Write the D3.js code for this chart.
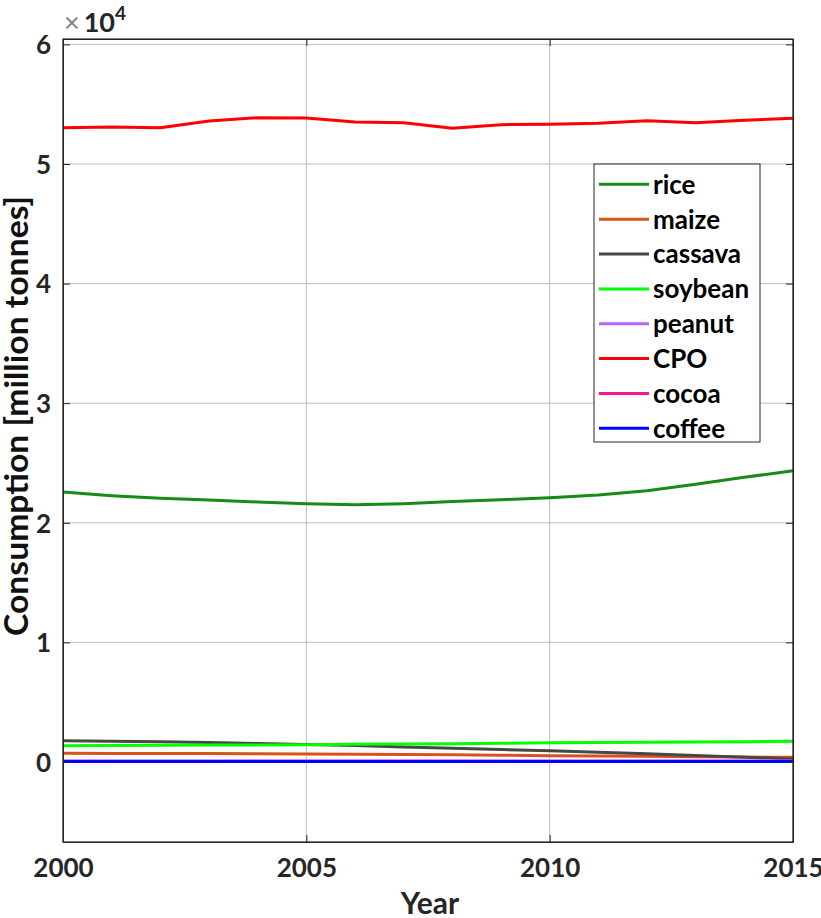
<!DOCTYPE html>
<html>
<head>
<meta charset="utf-8">
<script src="https://cdn.jsdelivr.net/npm/d3@7"></script>
<style>
  html, body { margin: 0; padding: 0; background: #fff; }
  svg { display: block; font-family: Lato, "DejaVu Sans", sans-serif; }
</style>
</head>
<body>
<svg id="chart" width="821" height="918"></svg>
<script>
const years = [2000,2001,2002,2003,2004,2005,2006,2007,2008,2009,2010,2011,2012,2013,2014,2015];
const seriesNames = ["rice","maize","cassava","soybean","peanut","CPO","cocoa","coffee"];
const rice    = [22580,22270,22050,21900,21740,21600,21510,21600,21770,21930,22100,22320,22680,23220,23800,24360];
const maize   = [730,720,710,700,690,670,650,620,600,560,530,500,470,440,410,390];
const cassava = [1780,1740,1690,1620,1550,1460,1370,1260,1150,1040,940,820,690,550,400,260];
const soybean = [1360,1380,1400,1410,1430,1450,1480,1500,1530,1560,1600,1620,1650,1680,1700,1730];
const peanut  = [90,90,90,90,90,90,90,90,90,90,90,90,90,90,90,90];
const CPO     = [53030,53100,53030,53590,53870,53840,53510,53450,52980,53290,53320,53400,53620,53450,53650,53820];
const cocoa   = [70,70,70,70,70,70,70,70,70,70,70,70,70,70,70,70];
const coffee  = [50,50,50,50,50,50,50,50,50,50,50,50,50,50,50,50];
const xTicks = [2000,2005,2010,2015];
const yTicks = [0,10000,20000,30000,40000,50000,60000];
const yTickLabels = ["0","1","2","3","4","5","6"];
const colors = ["#178a17","#d95319","#474747","#00ff00","#b266ff","#ff0000","#ff1493","#0000ff"];

const seriesData = [rice, maize, cassava, soybean, peanut, CPO, cocoa, coffee];

const svg = d3.select("#chart");
const L = 63, R = 793, T = 39, B = 842;
const x = d3.scaleLinear().domain([2000, 2015]).range([L, R]);
const y = d3.scaleLinear().domain([-6690, 60450]).range([B, T]);
const ink = "#262626";

// grid
const grid = svg.append("g");
grid.selectAll("line.gx").data(xTicks).join("line")
  .attr("x1", d => x(d)).attr("x2", d => x(d)).attr("y1", T).attr("y2", B)
  .attr("stroke", "#bdbdbd").attr("stroke-width", 1);
grid.selectAll("line.gy").data(yTicks).join("line")
  .attr("x1", L).attr("x2", R).attr("y1", d => y(d)).attr("y2", d => y(d))
  .attr("stroke", "#bdbdbd").attr("stroke-width", 1);

// lines
const line = d3.line().x((d, i) => x(years[i])).y(d => y(d));
svg.append("g").selectAll("path").data(seriesData).join("path")
  .attr("d", d => line(d)).attr("fill", "none")
  .attr("stroke", (d, i) => colors[i]).attr("stroke-width", 3)
  .attr("stroke-linejoin", "round");

// axes with inward ticks
const axB = svg.append("g").attr("transform", `translate(0,${B})`)
  .call(d3.axisBottom(x).tickValues(xTicks).tickFormat(d3.format("d")).tickSizeInner(-7).tickSizeOuter(0).tickPadding(17));
const axT = svg.append("g").attr("transform", `translate(0,${T})`)
  .call(d3.axisTop(x).tickValues(xTicks).tickFormat("").tickSizeInner(-7).tickSizeOuter(0));
const axL = svg.append("g").attr("transform", `translate(${L},0)`)
  .call(d3.axisLeft(y).tickValues(yTicks).tickFormat((d, i) => yTickLabels[i]).tickSizeInner(-7).tickSizeOuter(0).tickPadding(12));
const axR = svg.append("g").attr("transform", `translate(${R},0)`)
  .call(d3.axisRight(y).tickValues(yTicks).tickFormat("").tickSizeInner(-7).tickSizeOuter(0));
[axB, axT, axL, axR].forEach(a => {
  a.select(".domain").attr("stroke", ink);
  a.selectAll(".tick line").attr("stroke", ink);
  a.selectAll("text").attr("fill", ink).style("font-family", "Lato").style("font-weight", "bold").style("font-size", "26px");
});
axL.selectAll("text").attr("dy", "0.36em");
axB.selectAll("text").attr("dy", "0.71em");

// box
svg.append("rect").attr("x", L).attr("y", T).attr("width", R - L).attr("height", B - T)
  .attr("fill", "none").attr("stroke", ink).attr("stroke-width", 1.2);

// exponent label
const ex = svg.append("text").attr("x", 64).attr("y", 32).attr("fill", ink)
  .style("font-family", "Lato").style("font-size", "27px");
ex.append("tspan").text("×").style("font-weight", "normal").attr("fill", "#808080");
ex.append("tspan").text("10").style("font-weight", "bold").attr("dx", 4);
ex.append("tspan").text("4").style("font-weight", "bold").style("font-size", "19px").attr("dy", -12);

// axis titles
svg.append("text").attr("x", 430).attr("y", 914).attr("text-anchor", "middle")
  .attr("fill", ink).style("font-family", "Lato").style("font-weight", "bold").style("font-size", "30px")
  .text("Year");
svg.append("text").attr("transform", "translate(28,416) rotate(-90)").attr("text-anchor", "middle")
  .attr("fill", "#111").style("font-family", "Lato").style("font-weight", "bold").style("font-size", "32px")
  .attr("textLength", 440).attr("lengthAdjust", "spacingAndGlyphs")
  .text("Consumption [million tonnes]");

// legend
const lg = svg.append("g");
lg.append("rect").attr("x", 594).attr("y", 164).attr("width", 166).attr("height", 278)
  .attr("fill", "#fff").attr("stroke", ink).attr("stroke-width", 1);
const rowY = i => 184.3 + i * 34.86;
lg.selectAll("line").data(seriesNames).join("line")
  .attr("x1", 599).attr("x2", 649).attr("y1", (d, i) => rowY(i)).attr("y2", (d, i) => rowY(i))
  .attr("stroke", (d, i) => colors[i]).attr("stroke-width", 3);
lg.selectAll("text").data(seriesNames).join("text")
  .attr("x", 653).attr("y", (d, i) => rowY(i)).attr("dy", "0.36em")
  .attr("fill", "#000").style("font-family", "Lato").style("font-weight", "bold").style("font-size", "26px")
  .text(d => d);
</script>
</body>
</html>
